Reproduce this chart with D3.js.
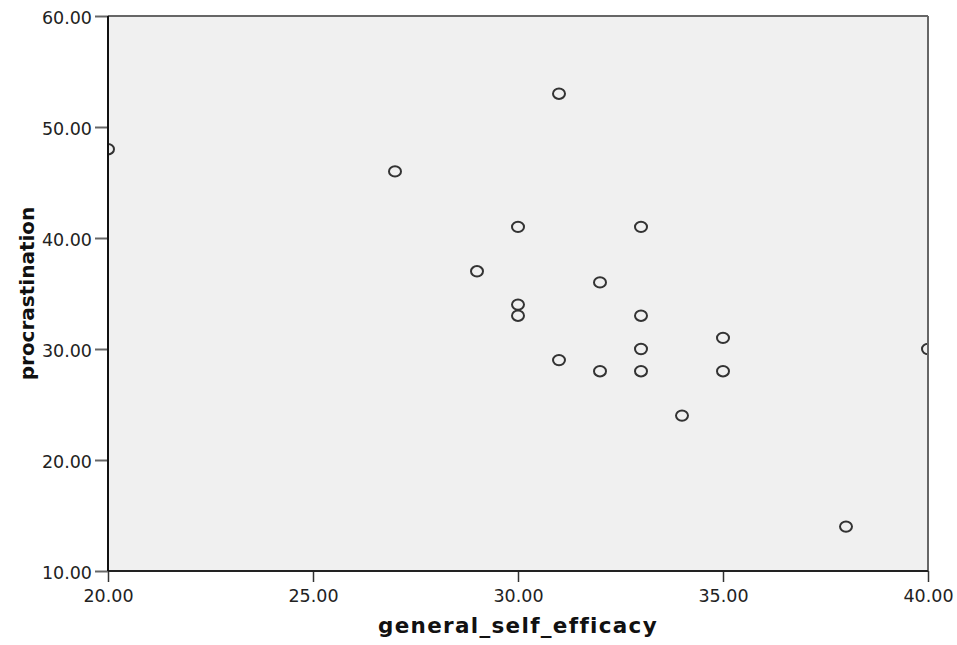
<!DOCTYPE html>
<html>
<head>
<meta charset="utf-8">
<script src="https://cdn.jsdelivr.net/npm/d3@7"></script>
<style>
body { margin: 0; background: #fff; }
svg { display: block; }
</style>
</head>
<body>
<svg id="chart" width="957" height="645"></svg>
<script>
// general_self_efficacy vs procrastination
var efficacy = [20, 27, 31, 30, 33, 29, 32, 30, 30, 33, 33, 35, 40, 31, 32, 33, 35, 34, 38];
var procrast = [48, 46, 53, 41, 41, 37, 36, 34, 33, 33, 30, 31, 30, 29, 28, 28, 28, 24, 14];
var xTicks = [20, 25, 30, 35, 40];
var yTicks = [10, 20, 30, 40, 50, 60];

var margin = {top: 16, right: 29, bottom: 74, left: 108},
    width = 957 - margin.left - margin.right,
    height = 645 - margin.top - margin.bottom;

var svg = d3.select("#chart");
var g = svg.append("g").attr("transform", "translate(" + margin.left + "," + margin.top + ")");

var x = d3.scaleLinear().domain([20, 40]).range([0, width]);
var y = d3.scaleLinear().domain([10, 60]).range([height, 0]);

g.append("rect")
  .attr("width", width).attr("height", height)
  .attr("fill", "#f0f0f0");

svg.append("defs").append("clipPath").attr("id", "clip")
  .append("rect").attr("width", width).attr("height", height);

// axes
var xAxis = g.append("g")
  .attr("transform", "translate(0," + height + ")")
  .call(d3.axisBottom(x).tickValues(xTicks).tickSize(11).tickSizeOuter(0).tickFormat(d3.format(".2f")));
var yAxis = g.append("g")
  .call(d3.axisLeft(y).tickValues(yTicks).tickSize(13).tickSizeOuter(0).tickFormat(d3.format(".2f")));

[xAxis, yAxis].forEach(function(a){
  a.select(".domain").remove();
  a.selectAll("text")
    .attr("font-family", "DejaVu Sans, sans-serif")
    .attr("font-size", 17.5)
    .attr("fill", "#222");
});
xAxis.selectAll(".tick line").attr("stroke", "#333").attr("stroke-width", 1.5);
xAxis.selectAll("text").attr("dy", "0.95em");
yAxis.selectAll(".tick line").attr("stroke", "#666").attr("stroke-width", 2);
yAxis.selectAll("text").attr("x", -16).attr("dy", "0.4em");

// points
g.append("g").attr("clip-path", "url(#clip)")
  .selectAll("ellipse")
  .data(efficacy.map(function(d, i){ return {x: d, y: procrast[i]}; }))
  .join("ellipse")
  .attr("cx", d => x(d.x))
  .attr("cy", d => y(d.y))
  .attr("rx", 6).attr("ry", 5.2)
  .attr("fill", "none")
  .attr("stroke", "#333")
  .attr("stroke-width", 2);

// frame
g.append("line").attr("x1", 0).attr("x2", width).attr("y1", 0).attr("y2", 0)
  .attr("stroke", "#666").attr("stroke-width", 2);
g.append("line").attr("x1", width).attr("x2", width).attr("y1", 0).attr("y2", height)
  .attr("stroke", "#666").attr("stroke-width", 2);
g.append("line").attr("x1", 0).attr("x2", width).attr("y1", height).attr("y2", height)
  .attr("stroke", "#222").attr("stroke-width", 2);
g.append("line").attr("x1", 0).attr("x2", 0).attr("y1", 0).attr("y2", height)
  .attr("stroke", "#111").attr("stroke-width", 2);

// titles
svg.append("text")
  .attr("x", margin.left + width / 2).attr("y", 633)
  .attr("text-anchor", "middle")
  .attr("font-family", "DejaVu Sans, sans-serif")
  .attr("font-weight", "bold").attr("font-size", 21.5)
  .attr("letter-spacing", 1.3)
  .attr("fill", "#111")
  .text("general_self_efficacy");

svg.append("text")
  .attr("transform", "translate(34," + (margin.top + height / 2) + ") rotate(-90)")
  .attr("text-anchor", "middle")
  .attr("font-family", "DejaVu Sans, sans-serif")
  .attr("font-weight", "bold").attr("font-size", 20)
  .attr("fill", "#111")
  .text("procrastination");
</script>
</body>
</html>
